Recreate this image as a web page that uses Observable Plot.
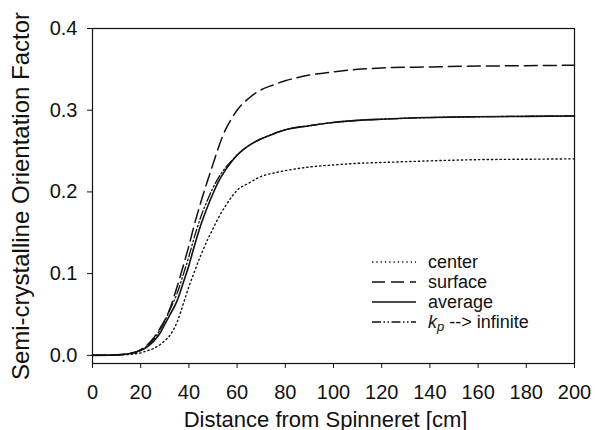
<!DOCTYPE html>
<html><head><meta charset="utf-8">
<script src="https://cdn.jsdelivr.net/npm/d3@7"></script>
<script src="https://cdn.jsdelivr.net/npm/@observablehq/plot@0.6"></script>
<style>
body{margin:0;background:#fff;}
#wrap{position:relative;width:595px;height:430px;font-family:"Liberation Sans",Arial,sans-serif;}
#legend{position:absolute;left:372px;top:252px;font-size:18px;color:#111;line-height:20px;}
.row{display:flex;align-items:center;height:20px;white-space:nowrap;}
.row svg{width:44px;height:10px;margin-right:12px;flex:none;}
.row sub{font-size:13px;vertical-align:-3px;line-height:0;}
</style></head><body><div id="wrap"><div id="legend"></div></div>
<script>
const xTicks = [0,20,40,60,80,100,120,140,160,180,200];
const yTicks = [0,0.1,0.2,0.3,0.4];
const xTitle = "Distance from Spinneret [cm]";
const yTitle = "Semi-crystalline Orientation Factor";
const seriesNames = ["center","surface","average","kp"];

const xs      = [0,10,15,18,20,22,25,28,30,32,35,38,40,42,45,48,50,52,55,58,60,65,70,75,80,90,100,110,120,140,160,180,200];
const center  = [0,0.0003,0.001,0.002,0.003,0.005,0.008,0.013,0.018,0.024,0.040,0.066,0.084,0.100,0.123,0.143,0.155,0.167,0.182,0.195,0.202,0.211,0.219,0.223,0.226,0.2305,0.233,0.235,0.236,0.238,0.2395,0.240,0.2405];
const surface = [0,0.0005,0.002,0.004,0.007,0.011,0.020,0.033,0.043,0.056,0.083,0.113,0.134,0.157,0.188,0.216,0.234,0.252,0.275,0.291,0.300,0.315,0.325,0.331,0.336,0.343,0.347,0.350,0.3517,0.353,0.354,0.3545,0.355];
const average = [0,0.0005,0.002,0.004,0.006,0.009,0.016,0.027,0.038,0.049,0.066,0.092,0.110,0.131,0.160,0.184,0.198,0.211,0.226,0.238,0.245,0.257,0.265,0.271,0.276,0.281,0.285,0.2875,0.289,0.291,0.292,0.2925,0.293];
const kp      = [0,0.0005,0.002,0.004,0.007,0.010,0.018,0.031,0.042,0.055,0.075,0.102,0.121,0.142,0.170,0.192,0.205,0.216,0.229,0.239,0.245,0.257,0.265,0.271,0.276,0.281,0.285,0.2875,0.289,0.291,0.292,0.2925,0.293];

const styles = {
  center:  {strokeDasharray:"1.3,3", strokeWidth:1.4},
  surface: {strokeDasharray:"13,6", strokeWidth:1.5},
  average: {strokeDasharray:null, strokeWidth:1.6},
  kp:      {strokeDasharray:"9,2.5,1.5,2.5,1.5,2.5", strokeWidth:1.3}
};
const values = {center, surface, average, kp};
const rows = s => xs.map((x,i)=>({x, y: values[s][i]}));

const font = '"Liberation Sans", Arial, sans-serif';
const plot = Plot.plot({
  width:595, height:430,
  marginLeft:92, marginRight:21, marginTop:28, marginBottom:67,
  style:{fontFamily:font, fontSize:"20px", color:"#111", background:"white"},
  x:{domain:[0,200]},
  y:{domain:[-0.01,0.4]},
  marks:[
    Plot.frame({stroke:"#111", strokeWidth:1.2}),
    Plot.axisX({ticks:xTicks, tickSize:5, tickPadding:16, label:null, fontSize:20}),
    Plot.axisY({ticks:yTicks, tickSize:5, tickPadding:10, tickFormat:d=>d.toFixed(1), label:null, fontSize:20}),
    ...["center","kp","surface","average"].map(s =>
      Plot.line(rows(s), {x:"x", y:"y", curve:"monotone-x", stroke:"#111", ...styles[s]})),
    Plot.text([xTitle], {text:d=>d, frameAnchor:"bottom", dy:63, dx:-8, fontSize:22, fill:"#111"}),
    Plot.text([yTitle], {text:d=>d, frameAnchor:"left", textAnchor:"middle", rotate:-90, dx:-71, dy:0, fontSize:24, fill:"#111"})
  ]
});
document.getElementById("wrap").prepend(plot);

const labels = {center:"center", surface:"surface", average:"average", kp:'<i>k<sub>p</sub></i> --&gt; infinite'};
const legend = document.getElementById("legend");
for (const s of seriesNames) {
  const st = styles[s];
  const row = document.createElement("div");
  row.className = "row";
  row.innerHTML = `<svg viewBox="0 0 44 10"><line x1="0" x2="44" y1="5" y2="5" stroke="#111" stroke-width="${st.strokeWidth}" ${st.strokeDasharray ? `stroke-dasharray="${st.strokeDasharray}"` : ""}/></svg><span>${labels[s]}</span>`;
  legend.appendChild(row);
}
</script></body></html>
